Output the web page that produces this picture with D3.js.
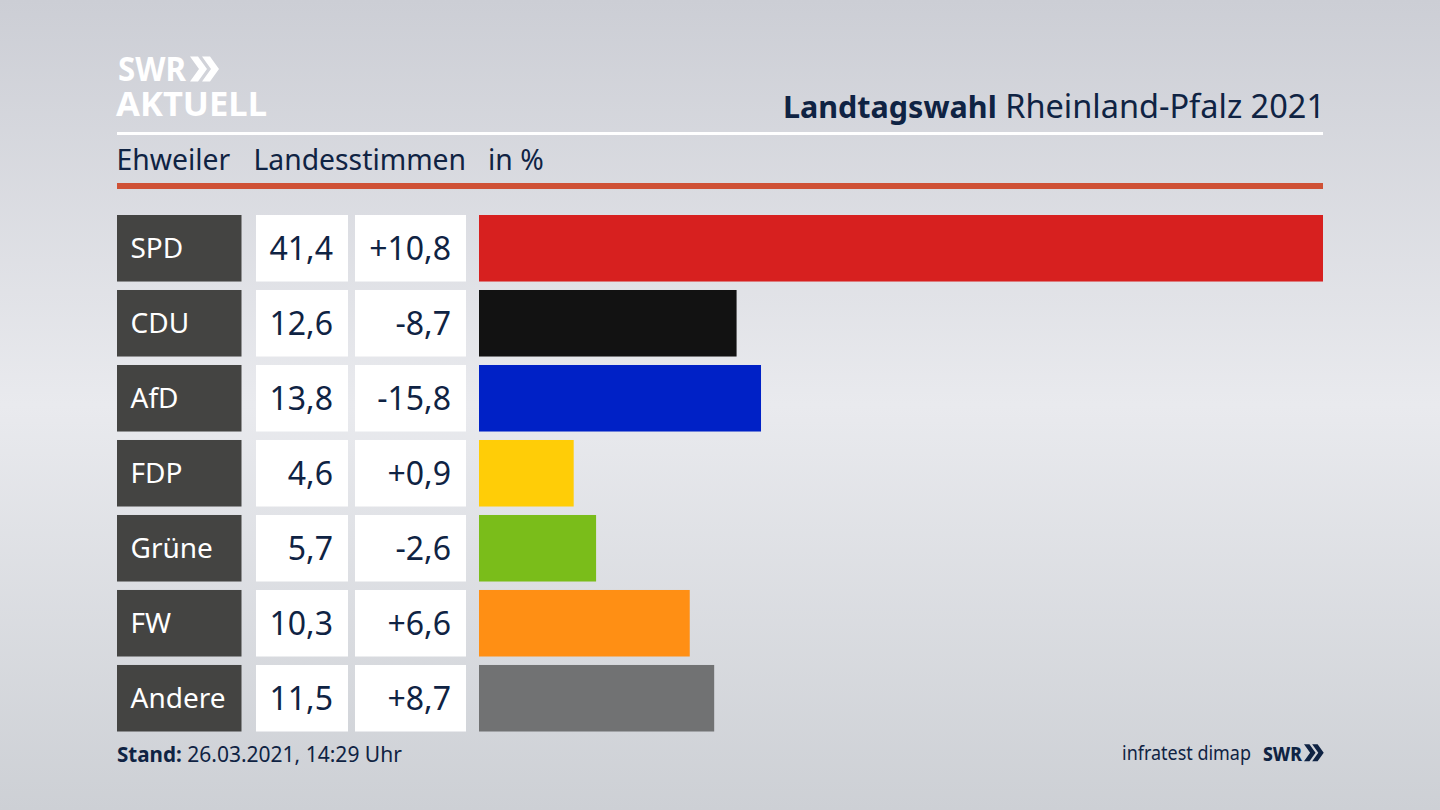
<!DOCTYPE html>
<html>
<head>
<meta charset="utf-8">
<script src="https://cdn.jsdelivr.net/npm/d3@7"></script>
<style>
  html, body { margin: 0; padding: 0; background: #d9dbe0; overflow: hidden; }
  text { font-family: "Noto Sans", "Open Sans", sans-serif; }
</style>
</head>
<body>
<svg id="chart" width="1440" height="810"></svg>
<script>
const parties = ['SPD', 'CDU', 'AfD', 'FDP', 'Grüne', 'FW', 'Andere'];
const shares = [41.4, 12.6, 13.8, 4.6, 5.7, 10.3, 11.5];
const changes = [10.8, -8.7, -15.8, 0.9, -2.6, 6.6, 8.7];
const partyColors = ['#d7201f', '#121212', '#0021c6', '#ffcd07', '#7abd1a', '#ff8f14', '#717273'];

const navy = '#0f2343';
const svg = d3.select('#chart');

// Background
const defs = svg.append('defs');
const grad = defs.append('linearGradient')
  .attr('id', 'bg').attr('x1', 0).attr('y1', 0).attr('x2', 0).attr('y2', 1);
[[0, '#ccced5'], [0.5, '#e9eaee'], [1, '#cdd0d5']].forEach(s => {
  grad.append('stop').attr('offset', s[0]).attr('stop-color', s[1]);
});
svg.append('rect').attr('width', 1440).attr('height', 810).attr('fill', 'url(#bg)');

// Scales
const x = d3.scaleLinear().domain([-0.05, d3.max(shares)]).range([479, 1323]);
const y = d3.scaleBand().domain(parties).range([215, 731.5]).paddingInner(0.113);

// Comma decimals
const comma = d3.formatLocale({ decimal: ',', thousands: '.', grouping: [3], currency: ['', ''] });
const fmtShare = comma.format('.1f');
const fmtChange = comma.format('+.1f');

// Logo
const chevrons = 'M0 0h8l9 12.5-9 12.5h-8l9-12.5z';
function drawSwrMark(g, size, weight, color, textWidth, chevronX, chevronScale) {
  g.append('text').text('SWR')
    .attr('font-size', size).attr('font-weight', weight).attr('fill', color)
    .attr('textLength', textWidth).attr('lengthAdjust', 'spacingAndGlyphs');
  [0, 12].forEach(dx => {
    g.append('path').attr('d', chevrons).attr('fill', color)
      .attr('transform', `translate(${chevronX + dx * chevronScale},${-24.5 * chevronScale}) scale(${chevronScale})`);
  });
}
drawSwrMark(svg.append('g').attr('transform', 'translate(118,81)'), 34, 700, '#fff', 68, 72, 1);
svg.append('text').text('AKTUELL')
  .attr('x', 116).attr('y', 116).attr('font-size', 34).attr('font-weight', 700)
  .attr('fill', '#fff').attr('textLength', 151).attr('lengthAdjust', 'spacingAndGlyphs');

// Title
const title = svg.append('text').attr('x', 1325).attr('y', 117.5)
  .attr('text-anchor', 'end').attr('fill', navy);
title.append('tspan').attr('font-size', 30.5).attr('font-weight', 700).text('Landtagswahl');
title.append('tspan').attr('font-size', 32.5).text(' Rheinland-Pfalz 2021');

// Rules
svg.append('rect').attr('x', 117).attr('y', 132).attr('width', 1206).attr('height', 3).attr('fill', '#fff');
svg.append('rect').attr('x', 117).attr('y', 183).attr('width', 1206).attr('height', 6).attr('fill', '#cf5136');

// Subtitle row
[['Ehweiler', 116.5], ['Landesstimmen', 253.5], ['in %', 488]].forEach(d => {
  svg.append('text').text(d[0]).attr('x', d[1]).attr('y', 170)
    .attr('font-size', 28.3).attr('fill', navy);
});

// Rows
const rows = svg.selectAll('g.row').data(parties).join('g')
  .attr('class', 'row')
  .attr('transform', d => `translate(0,${y(d)})`);
const h = y.bandwidth();

rows.append('rect').attr('x', 117).attr('width', 124.5).attr('height', h).attr('fill', '#444442');
rows.append('rect').attr('x', 256).attr('width', 92).attr('height', h).attr('fill', '#fff');
rows.append('rect').attr('x', 355).attr('width', 111).attr('height', h).attr('fill', '#fff');

rows.append('rect')
  .attr('x', x.range()[0])
  .attr('width', (d, i) => x(shares[i]) - x.range()[0])
  .attr('height', h)
  .attr('fill', (d, i) => partyColors[i]);

rows.append('text').text(d => d)
  .attr('x', 130.5).attr('y', h / 2 + 10)
  .attr('font-size', 28).attr('fill', '#fff');
rows.append('text').text((d, i) => fmtShare(shares[i]))
  .attr('x', 333).attr('y', h / 2 + 11.5)
  .attr('text-anchor', 'end').attr('font-size', 32).attr('fill', navy);
rows.append('text').text((d, i) => fmtChange(changes[i]).replace('−', '-'))
  .attr('x', 451).attr('y', h / 2 + 11.5)
  .attr('text-anchor', 'end').attr('font-size', 32).attr('fill', navy);

// Footer
const stand = svg.append('text').attr('x', 117).attr('y', 762).attr('fill', navy);
stand.append('tspan').attr('font-size', 20.6).attr('font-weight', 700).text('Stand:');
stand.append('tspan').attr('font-size', 21).text(' 26.03.2021, 14:29 Uhr');

svg.append('text').text('infratest dimap')
  .attr('x', 1122).attr('y', 760)
  .attr('font-size', 20).attr('fill', navy)
  .attr('textLength', 129).attr('lengthAdjust', 'spacingAndGlyphs');
drawSwrMark(svg.append('g').attr('transform', 'translate(1263,761)'), 20, 800, navy, 39, 41, 0.68);
</script>
</body>
</html>
